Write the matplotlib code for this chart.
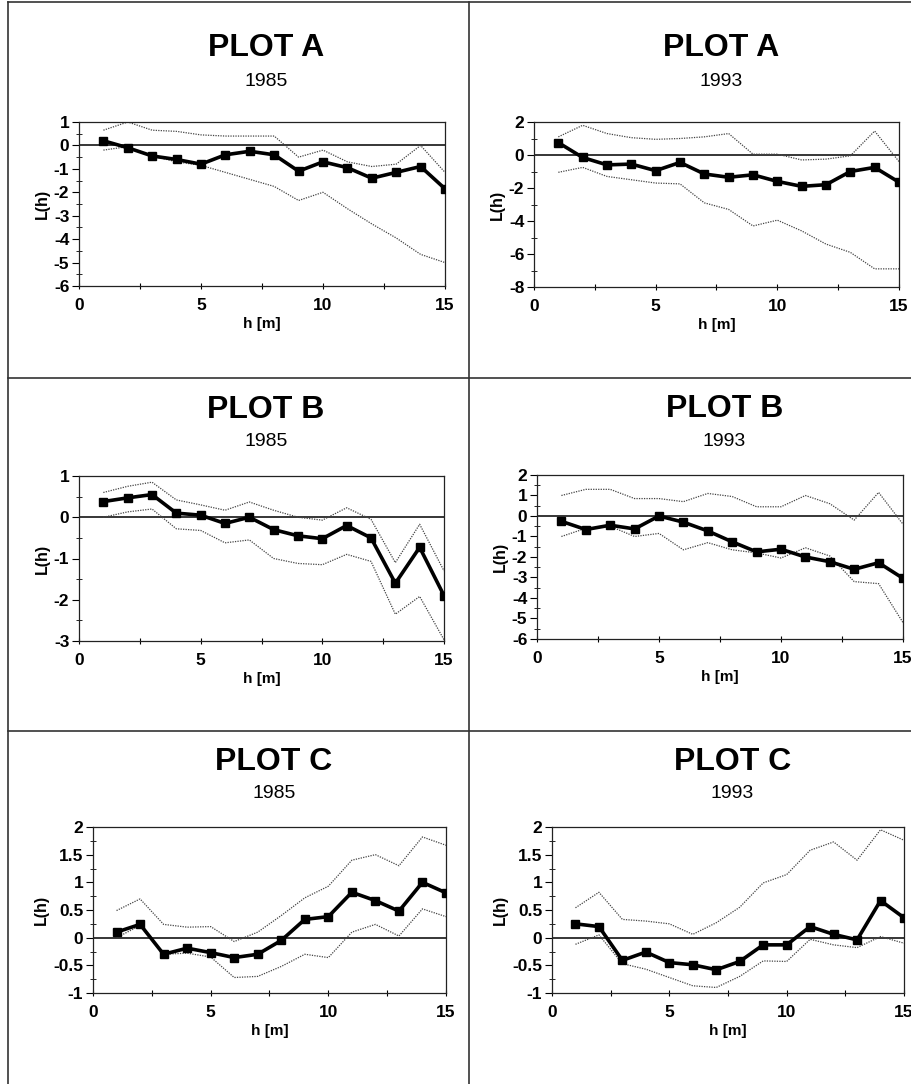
import numpy as np
import matplotlib
matplotlib.use("Agg")
import matplotlib.pyplot as plt
from matplotlib.lines import Line2D
from matplotlib.ticker import MultipleLocator, FuncFormatter

plt.rcParams['font.family'] = ['Liberation Sans', 'DejaVu Sans']
plt.rcParams['axes.unicode_minus'] = False

h = np.arange(1, 16)

# Plot A
a85_L = [0.2, -0.1, -0.45, -0.6, -0.8, -0.4, -0.25, -0.4, -1.1, -0.7, -0.95, -1.4, -1.15, -0.9, -1.85]
a85_hi = [0.65, 1.0, 0.65, 0.6, 0.45, 0.4, 0.4, 0.4, -0.5, -0.2, -0.7, -0.9, -0.8, 0.0, -1.15]
a85_lo = [-0.2, -0.05, -0.45, -0.7, -0.85, -1.15, -1.45, -1.75, -2.35, -2.0, -2.7, -3.35, -3.95, -4.65, -5.0]

a93_L = [0.75, -0.15, -0.6, -0.55, -0.95, -0.45, -1.15, -1.35, -1.2, -1.6, -1.9, -1.8, -1.0, -0.75, -1.65]
a93_hi = [1.1, 1.8, 1.3, 1.05, 0.95, 1.0, 1.1, 1.3, 0.05, 0.05, -0.3, -0.25, -0.05, 1.45, -0.4]
a93_lo = [-1.05, -0.75, -1.3, -1.5, -1.7, -1.75, -2.9, -3.3, -4.3, -3.95, -4.6, -5.4, -5.9, -6.9, -6.9]

# Plot B
b85_L = [0.38, 0.47, 0.55, 0.1, 0.05, -0.15, 0.0, -0.3, -0.45, -0.52, -0.2, -0.5, -1.6, -0.73, -1.9]
b85_hi = [0.6, 0.75, 0.85, 0.42, 0.3, 0.17, 0.37, 0.17, 0.0, -0.07, 0.23, -0.05, -1.1, -0.17, -1.3]
b85_lo = [0.0, 0.13, 0.2, -0.28, -0.32, -0.62, -0.55, -1.0, -1.12, -1.15, -0.9, -1.07, -2.35, -1.92, -2.97]

b93_L = [-0.26, -0.66, -0.45, -0.63, 0.0, -0.3, -0.73, -1.26, -1.75, -1.62, -2.0, -2.23, -2.6, -2.28, -3.04]
b93_hi = [1.0, 1.3, 1.3, 0.85, 0.85, 0.7, 1.1, 0.95, 0.45, 0.45, 1.0, 0.6, -0.2, 1.15, -0.4]
b93_lo = [-1.0, -0.6, -0.5, -1.0, -0.85, -1.65, -1.3, -1.65, -1.8, -2.05, -1.55, -1.95, -3.2, -3.3, -5.2]

# Plot C
c85_L = [0.1, 0.24, -0.3, -0.19, -0.27, -0.36, -0.3, -0.05, 0.33, 0.38, 0.82, 0.67, 0.48, 1.0, 0.81]
c85_hi = [0.49, 0.7, 0.24, 0.19, 0.2, -0.07, 0.1, 0.4, 0.72, 0.93, 1.4, 1.5, 1.3, 1.82, 1.67]
c85_lo = [0.0, 0.22, -0.3, -0.28, -0.35, -0.72, -0.7, -0.52, -0.3, -0.36, 0.1, 0.24, 0.03, 0.52, 0.38]

c93_L = [0.25, 0.2, -0.41, -0.26, -0.45, -0.49, -0.58, -0.43, -0.13, -0.13, 0.2, 0.06, -0.04, 0.67, 0.36]
c93_hi = [0.54, 0.82, 0.33, 0.3, 0.25, 0.06, 0.27, 0.55, 0.99, 1.14, 1.58, 1.73, 1.4, 1.95, 1.76]
c93_lo = [-0.12, 0.05, -0.47, -0.57, -0.72, -0.87, -0.9, -0.7, -0.42, -0.43, -0.03, -0.13, -0.18, 0.02, -0.1]

W, H = 912, 1084
fig = plt.figure(figsize=(W / 100, H / 100), dpi=100)

# (title, year, L, hi, lo, ymin, ymax, ystep, yminor, left, right, top, bottom, title_off, year_off)
panels = [
    ("PLOT A", "1985", a85_L, a85_hi, a85_lo, -6, 1, 1, 0.5, 79, 445, 122, 286, 74, 41),
    ("PLOT A", "1993", a93_L, a93_hi, a93_lo, -8, 2, 2, 1, 534, 899, 122, 287, 74, 41),
    ("PLOT B", "1985", b85_L, b85_hi, b85_lo, -3, 1, 1, 0.5, 79, 444, 476, 641, 66, 34),
    ("PLOT B", "1993", b93_L, b93_hi, b93_lo, -6, 2, 1, 0.5, 537, 903, 475, 639, 66, 34),
    ("PLOT C", "1985", c85_L, c85_hi, c85_lo, -1, 2, 0.5, 0.25, 93, 446, 827, 993, 65, 33),
    ("PLOT C", "1993", c93_L, c93_hi, c93_lo, -1, 2, 0.5, 0.25, 552, 904, 827, 993, 65, 33),
]


def fmt(v, pos):
    s = ("%.2f" % v).rstrip("0").rstrip(".")
    return "0" if s in ("-0", "") else s


for title, year, L, hi, lo, ymin, ymax, ystep, yminor, l, r, t, b, toff, yoff in panels:
    ax = fig.add_axes([l / W, 1 - b / H, (r - l) / W, (b - t) / H])
    ax.plot(h, hi, color="#444444", lw=0.9, ls=(0, (1, 1)))
    ax.plot(h, lo, color="#444444", lw=0.9, ls=(0, (1, 1)))
    ax.axhline(0, color="black", lw=1.1, zorder=1)
    ax.plot(h, L, color="black", lw=2.6, marker="s", ms=5.5, zorder=3)
    ax.set_xlim(0, 15)
    ax.set_ylim(ymin, ymax)
    ax.xaxis.set_major_locator(MultipleLocator(5))
    ax.xaxis.set_minor_locator(MultipleLocator(2.5))
    ax.yaxis.set_major_locator(MultipleLocator(ystep))
    ax.yaxis.set_minor_locator(MultipleLocator(yminor))
    ax.yaxis.set_major_formatter(FuncFormatter(fmt))
    ax.tick_params(axis="x", which="both", direction="inout", length=5, width=0.8,
                   labelsize=12.5, pad=6)
    ax.tick_params(axis="y", which="major", direction="out", length=5, width=0.8,
                   labelsize=12.5, pad=2)
    ax.tick_params(axis="y", which="minor", direction="inout", length=4, width=0.6)
    for lab in ax.get_xticklabels() + ax.get_yticklabels():
        lab.set_fontweight("bold")
    for sp in ax.spines.values():
        sp.set_linewidth(0.9)
        sp.set_color("#222222")
    ax.set_xlabel("h [m]", fontsize=11, fontweight="bold", labelpad=3)
    ax.set_ylabel("L(h)", fontsize=11.5, fontweight="bold", labelpad=3)
    cx = (l + r) / 2 / W + 0.005
    fig.text(cx, 1 - (t - toff) / H, title, ha="center", va="center",
             fontsize=23, fontweight="bold")
    fig.text(cx, 1 - (t - yoff) / H, year, ha="center", va="center", fontsize=14)

# frame lines between the panels
def hline(y, x0=8, x1=W):
    fig.add_artist(Line2D([x0 / W, x1 / W], [1 - y / H, 1 - y / H],
                          transform=fig.transFigure, color="#333333", lw=1.2))

def vline(x, y0, y1):
    fig.add_artist(Line2D([x / W, x / W], [1 - y0 / H, 1 - y1 / H],
                          transform=fig.transFigure, color="#333333", lw=1.2))

hline(2)
hline(378)
hline(731)
vline(8, 2, H)
vline(469, 2, H)

fig.savefig("out.png", dpi=100)
